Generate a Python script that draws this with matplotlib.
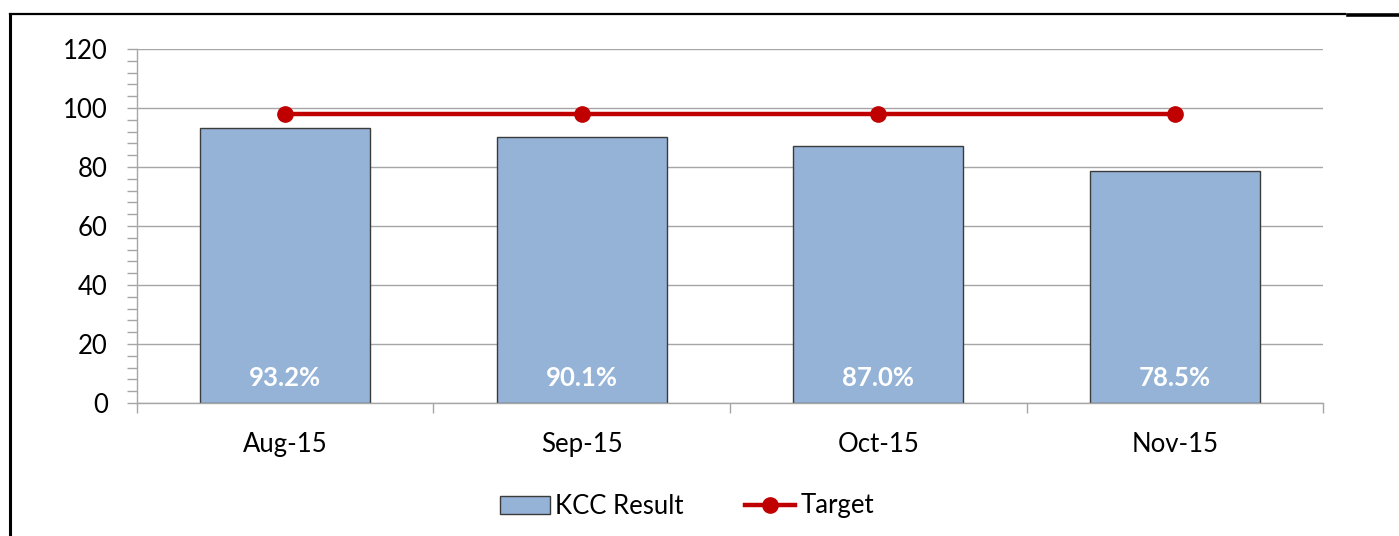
import numpy as np
import matplotlib.pyplot as plt
from matplotlib.lines import Line2D
from matplotlib.ticker import MultipleLocator

plt.rcParams['font.family'] = ['Lato', 'DejaVu Sans']

# -----------------------------
# Chart data
# -----------------------------
months = ["Aug-15", "Sep-15", "Oct-15", "Nov-15"]
kcc_result = [93.2, 90.1, 87.0, 78.5]
target = [98, 98, 98, 98]

BAR_COLOR = "#95B3D7"
LINE_COLOR = "#C00000"
GRID_COLOR = "#A6A6A6"

fig = plt.figure(figsize=(13.99, 5.36), dpi=100)
ax = fig.add_axes([0.0979, 0.2481, 0.8478, 0.6604])

x = np.arange(len(months))
ax.bar(x, kcc_result, width=0.573, color=BAR_COLOR, edgecolor="#3B3B3B",
       linewidth=1.0, label="KCC Result", zorder=2)
ax.plot(x, target, color=LINE_COLOR, linewidth=3.2, marker="o",
        markersize=11, label="Target", zorder=3)

# value labels inside the bars
for xi, v in zip(x, kcc_result):
    ax.text(xi, 8.5, f"{v:.1f}%", ha="center", va="center", color="white",
            fontsize=18.5, fontweight="bold", zorder=4)

# -----------------------------
# Axes styling
# -----------------------------
ax.set_xlim(-0.5, len(months) - 0.5)
ax.set_ylim(0, 120)
ax.yaxis.set_major_locator(MultipleLocator(20))
ax.yaxis.set_minor_locator(MultipleLocator(4))
ax.grid(axis="y", which="major", color=GRID_COLOR, linewidth=1.0, zorder=0)
ax.set_axisbelow(True)

for side in ["top", "right"]:
    ax.spines[side].set_visible(False)
for side in ["left", "bottom"]:
    ax.spines[side].set_color(GRID_COLOR)
    ax.spines[side].set_linewidth(1.0)

ax.set_xticks(x)
ax.set_xticklabels(months, fontsize=18.5)
ax.set_xticks(np.arange(-0.5, len(months), 1.0), minor=True)
ax.tick_params(axis="x", which="major", length=0, pad=21)
ax.tick_params(axis="x", which="minor", length=7, color=GRID_COLOR, width=1.0)
ax.tick_params(axis="y", which="major", length=7, color=GRID_COLOR,
               width=1.0, labelsize=18.5, pad=14)
ax.tick_params(axis="y", which="minor", length=7, color=GRID_COLOR, width=1.0)

handles = [plt.Rectangle((0, 0), 1, 1, facecolor=BAR_COLOR, edgecolor="#3B3B3B",
                         linewidth=1.0),
           Line2D([0], [0], color=LINE_COLOR, linewidth=3.2, marker="o",
                  markersize=11)]
fig.legend(handles, ["KCC Result", "Target"], loc="center",
           bbox_to_anchor=(0.491, 1 - 506 / 536), ncol=2, frameon=False,
           fontsize=18.5, handlelength=1.95, handleheight=0.7,
           handletextpad=0.2, columnspacing=2.4)

# partial outer frame seen in the original screenshot
fig.add_artist(Line2D([10 / 1399, 1345 / 1399], [1 - 14 / 536, 1 - 14 / 536],
                      color="black", linewidth=1.6))
fig.add_artist(Line2D([1348 / 1399, 1.0], [1 - 14.5 / 536, 1 - 14.5 / 536],
                      color="black", linewidth=2.6))
fig.add_artist(Line2D([10 / 1399, 10 / 1399], [0, 1 - 14 / 536],
                      color="black", linewidth=2.2))

fig.savefig("out.png", dpi=100)
